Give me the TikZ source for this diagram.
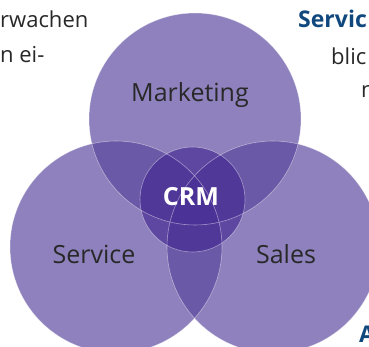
\documentclass[tikz,border=0pt]{standalone}
\usepackage{fontspec}
\setmainfont{Open Sans}
\usepackage{xcolor}
\usepackage{tikz}
\definecolor{vennpurple}{RGB}{89,70,157}
\definecolor{corepurple}{RGB}{65,36,145}
\definecolor{inktext}{RGB}{40,40,40}
\definecolor{headblue}{RGB}{16,72,125}
\tikzset{
  area/.style={circle, inner sep=0pt, minimum size=212pt, fill=vennpurple, fill opacity=0.68},
  core/.style={circle, inner sep=0pt, minimum size=105pt, fill=corepurple, fill opacity=0.62},
  rim/.style={draw=white, draw opacity=0.45, line width=0.6pt},
  big/.style={inner sep=0pt, anchor=base, text=inktext, font=\fontsize{25}{30}\selectfont},
  body/.style={inner sep=0pt, anchor=base west, text=inktext, font=\fontsize{22}{26}\selectfont},
  head/.style={body, text=headblue, font=\fontsize{23}{27}\selectfont\bfseries}
}

\begin{document}
\begin{tikzpicture}[x=1pt, y=-1pt]
        \useasboundingbox (0,0) rectangle (369,347);
        \clip (0,0) rectangle (369,347);

        % Circles
        \node[area] (mkt) at (195, 119) {};
        \node[area] (svc) at (116, 247) {};
        \node[area] (sales) at (273, 247) {};
        \node[core] (crm) at (192.5, 199.5) {};

        % Thin outlines on top
        \foreach \c/\r in {mkt/106, svc/106, sales/106, crm/52.5}
                \draw[rim] (\c.center) circle[radius=\r];

        % Labels
        \node[big] (mkttext) at (190, 102) {Marketing};
        \node[big] (svctext) at (94, 263) {Service};
        \node[big] (salestext) at (286, 263) {Sales};
        \node[big, text=white, font=\fontsize{25}{30}\selectfont\bfseries] (crmtext) at (191, 206) {CRM};

        % Running text at the edges
        \node[body] (left1) at (0, 28) {rwachen};
        \node[body] (left2) at (0, 63) {n ei-};
        \node[head] (right1) at (298, 28) {Servic};
        \node[body] (right2) at (331, 65) {blic};
        \node[body] (right3) at (361, 98) {n};
        \node[head] (right4) at (359, 342) {A};
    \end{tikzpicture}
\end{document}
